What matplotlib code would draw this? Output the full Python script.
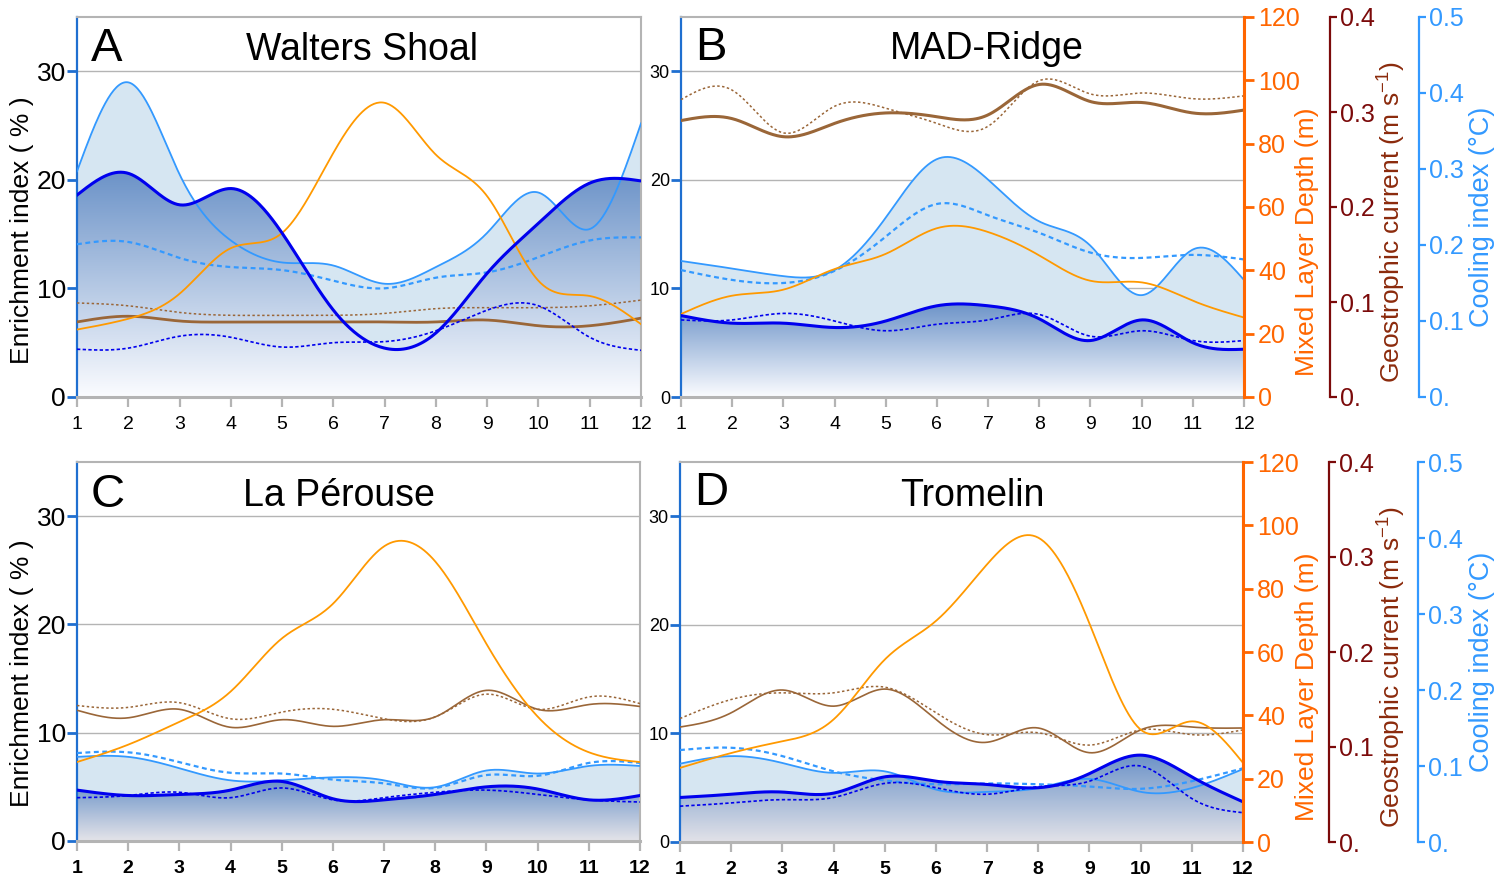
import numpy as np
import matplotlib
matplotlib.use('Agg')
import matplotlib.pyplot as plt
from matplotlib.patches import Polygon
from matplotlib.colors import LinearSegmentedColormap

plt.rcParams['font.family'] = ['Liberation Sans', 'DejaVu Sans']
plt.rcParams['mathtext.fontset'] = 'custom'
plt.rcParams['mathtext.rm'] = 'Liberation Sans'
plt.rcParams['mathtext.it'] = 'Liberation Sans:italic'

# ---------------- data ----------------
months = list(range(1, 13))
month_labels = [str(m) for m in months]

enrich_ticks = [0, 10, 20, 30]
mld_ticks = [0, 20, 40, 60, 80, 100, 120]
geo_ticks = [0, 0.1, 0.2, 0.3, 0.4]
geo_labels = ['0.', '0.1', '0.2', '0.3', '0.4']
cool_ticks = [0, 0.1, 0.2, 0.3, 0.4, 0.5]
cool_labels = ['0.', '0.1', '0.2', '0.3', '0.4', '0.5']

site_names = ['Walters Shoal', 'MAD-Ridge', 'La Pérouse', 'Tromelin']
site_letters = ['A', 'B', 'C', 'D']

# Enrichment index (%)
ws_enrich = [18.6, 20.6, 17.7, 19.2, 15.1, 8.0, 4.5, 5.9, 11.4, 16.0, 19.7, 19.9]
ws_enrich_dot = [4.4, 4.5, 5.6, 5.5, 4.6, 5.0, 5.1, 6.1, 8.0, 8.4, 5.5, 4.3]
mr_enrich = [7.5, 6.8, 6.8, 6.4, 7.0, 8.4, 8.4, 7.2, 5.2, 7.1, 5.0, 4.4]
mr_enrich_dot = [7.1, 7.1, 7.7, 7.0, 6.1, 6.7, 7.1, 7.6, 5.6, 6.1, 5.2, 5.2]
lp_enrich = [4.7, 4.2, 4.3, 4.7, 5.5, 3.9, 3.8, 4.3, 5.0, 4.8, 3.8, 4.2]
lp_enrich_dot = [4.0, 4.2, 4.5, 4.0, 4.9, 3.8, 4.0, 4.5, 4.7, 4.3, 3.8, 3.6]
tr_enrich = [4.1, 4.4, 4.6, 4.5, 6.0, 5.6, 5.3, 5.0, 6.3, 8.0, 6.0, 3.7]
tr_enrich_dot = [3.3, 3.6, 3.9, 4.1, 5.4, 5.0, 4.4, 5.1, 5.6, 7.0, 4.0, 2.7]

# Cooling index (degC)
ws_cool = [0.297, 0.414, 0.293, 0.206, 0.177, 0.173, 0.149, 0.171, 0.216, 0.269, 0.221, 0.360]
ws_cool_dash = [0.201, 0.204, 0.183, 0.171, 0.167, 0.153, 0.143, 0.157, 0.164, 0.184, 0.206, 0.210]
mr_cool = [0.179, 0.169, 0.159, 0.167, 0.236, 0.313, 0.286, 0.231, 0.199, 0.134, 0.194, 0.154]
mr_cool_dash = [0.167, 0.154, 0.150, 0.166, 0.211, 0.254, 0.239, 0.216, 0.190, 0.183, 0.187, 0.181]
lp_cool = [0.111, 0.111, 0.096, 0.080, 0.080, 0.084, 0.080, 0.071, 0.093, 0.089, 0.099, 0.099]
lp_cool_dash = [0.116, 0.117, 0.104, 0.090, 0.089, 0.081, 0.076, 0.070, 0.087, 0.086, 0.103, 0.103]
tr_cool = [0.103, 0.113, 0.104, 0.091, 0.093, 0.069, 0.066, 0.071, 0.083, 0.066, 0.071, 0.096]
tr_cool_dash = [0.121, 0.124, 0.113, 0.093, 0.081, 0.076, 0.077, 0.076, 0.073, 0.070, 0.080, 0.097]

# Mixed layer depth (m)
ws_mld = [21.3, 24.7, 32.6, 47.0, 51.8, 77.1, 92.9, 76.5, 63.4, 36.7, 31.9, 23.0]
mr_mld = [26.2, 32.0, 33.9, 40.4, 45.2, 53.3, 52.1, 44.7, 36.7, 36.2, 30.4, 25.1]
lp_mld = [25.0, 30.5, 37.7, 47.3, 64.1, 75.1, 93.3, 88.5, 62.4, 39.4, 28.1, 25.0]
tr_mld = [23.4, 28.1, 31.8, 38.7, 57.6, 69.8, 87.7, 96.1, 69.0, 35.5, 38.1, 25.0]

# Geostrophic current (m s-1)
ws_geo = [0.079, 0.085, 0.080, 0.079, 0.079, 0.079, 0.079, 0.079, 0.081, 0.075, 0.075, 0.083]
ws_geo_dot = [0.099, 0.096, 0.089, 0.086, 0.086, 0.086, 0.088, 0.093, 0.094, 0.094, 0.096, 0.102]
mr_geo = [0.291, 0.293, 0.274, 0.288, 0.299, 0.295, 0.297, 0.329, 0.311, 0.310, 0.299, 0.302]
mr_geo_dot = [0.313, 0.323, 0.278, 0.306, 0.304, 0.288, 0.285, 0.333, 0.319, 0.320, 0.314, 0.317]
lp_geo = [0.138, 0.130, 0.139, 0.120, 0.128, 0.121, 0.128, 0.131, 0.159, 0.139, 0.144, 0.142]
lp_geo_dot = [0.143, 0.141, 0.146, 0.129, 0.136, 0.139, 0.129, 0.131, 0.155, 0.139, 0.152, 0.145]
tr_geo = [0.121, 0.136, 0.160, 0.143, 0.161, 0.129, 0.105, 0.120, 0.094, 0.118, 0.121, 0.120]
tr_geo_dot = [0.130, 0.150, 0.157, 0.157, 0.163, 0.136, 0.113, 0.115, 0.102, 0.118, 0.113, 0.118]

# ---------------- helpers ----------------
def spline(x, y, n=400):
    x = np.asarray(x, float)
    y = np.asarray(y, float)
    nn = len(x)
    h = np.diff(x)
    A = np.zeros((nn, nn))
    r = np.zeros(nn)
    A[0, 0] = A[-1, -1] = 1.0
    for i in range(1, nn - 1):
        A[i, i - 1] = h[i - 1]
        A[i, i] = 2 * (h[i - 1] + h[i])
        A[i, i + 1] = h[i]
        r[i] = 3 * ((y[i + 1] - y[i]) / h[i] - (y[i] - y[i - 1]) / h[i - 1])
    c = np.linalg.solve(A, r)
    b = (y[1:] - y[:-1]) / h - h * (2 * c[:-1] + c[1:]) / 3
    d = (c[1:] - c[:-1]) / (3 * h)
    xs = np.linspace(x[0], x[-1], n)
    idx = np.clip(np.searchsorted(x, xs) - 1, 0, nn - 2)
    dx = xs - x[idx]
    return xs, y[idx] + b[idx] * dx + c[idx] * dx ** 2 + d[idx] * dx ** 3


W, H = 1512, 882
fig = plt.figure(figsize=(W / 100, H / 100), dpi=100)
PX2PT = 72 / 100


def rect(l, t, r, b):
    return [l / W, 1 - b / H, (r - l) / W, (b - t) / H]


GRAY = '#b4b4b4'
BLUE_SPINE = '#1f6fd0'
ORANGE_AX = '#ff6600'
GEO_AX = '#7b0a0a'
GEO_LABEL = '#8b2a0c'
COOL_C = '#3399ff'
ENR_C = '#0000ee'
MLD_C = '#ff9900'
BROWN = '#9a6638'

panels = [
    dict(box=(77, 17, 641, 397), enrich=ws_enrich, enrich_dot=ws_enrich_dot, cool=ws_cool,
         cool_dash=ws_cool_dash, mld=ws_mld, geo=ws_geo, geo_dot=ws_geo_dot,
         big_left=True, right_axes=False, bold_x=False, brown_lw=2.0, grad_bottom='#fbfcff',
         title_x=0.505, letter_y=0.884, title_y=0.887),
    dict(box=(681, 17, 1244, 397), enrich=mr_enrich, enrich_dot=mr_enrich_dot, cool=mr_cool,
         cool_dash=mr_cool_dash, mld=mr_mld, geo=mr_geo, geo_dot=mr_geo_dot,
         big_left=False, right_axes=True, bold_x=False, brown_lw=2.2, grad_bottom='#fbfcff',
         title_x=0.544, letter_y=0.887, title_y=0.889),
    dict(box=(77, 462, 640, 841), enrich=lp_enrich, enrich_dot=lp_enrich_dot, cool=lp_cool,
         cool_dash=lp_cool_dash, mld=lp_mld, geo=lp_geo, geo_dot=lp_geo_dot,
         big_left=True, right_axes=False, bold_x=True, brown_lw=1.2, grad_bottom='#e4e4e9',
         title_x=0.465, letter_y=0.882, title_y=0.884),
    dict(box=(680, 462, 1243, 842), enrich=tr_enrich, enrich_dot=tr_enrich_dot, cool=tr_cool,
         cool_dash=tr_cool_dash, mld=tr_mld, geo=tr_geo, geo_dot=tr_geo_dot,
         big_left=False, right_axes=True, bold_x=True, brown_lw=1.2, grad_bottom='#e2e2e8',
         title_x=0.519, letter_y=0.886, title_y=0.884),
]

for i, p in enumerate(panels):
    ax = fig.add_axes(rect(*p['box']))
    ax.set_xlim(1, 12)
    ax.set_ylim(0, 35)
    am = ax.twinx()
    am.set_ylim(0, 120)
    ag = ax.twinx()
    ag.set_ylim(0, 0.4)
    ac = ax.twinx()
    ac.set_ylim(0, 0.5)
    for t in (am, ag, ac):
        t.set_xlim(1, 12)

    # cooling fill (in cooling units)
    xs, ys = spline(months, p['cool'])
    verts = [(xs[0], 0)] + list(zip(xs, ys)) + [(xs[-1], 0)]
    poly = Polygon(verts, closed=True, facecolor='#d6e6f2', edgecolor='none',
                   transform=ac.transData, zorder=1)
    ax.add_patch(poly)

    # enrichment gradient fill
    xe, ye = spline(months, p['enrich'])
    ev = [(xe[0], 0)] + list(zip(xe, ye)) + [(xe[-1], 0)]
    epoly = Polygon(ev, closed=True, facecolor='none', edgecolor='none', zorder=2)
    ax.add_patch(epoly)
    cmap = LinearSegmentedColormap.from_list('g', [p['grad_bottom'], '#6c93c8'])
    grad = np.linspace(0, 1, 256)[:, None]
    im = ax.imshow(grad, aspect='auto', origin='lower', cmap=cmap,
                   extent=[1, 12, 0, float(ye.max())], zorder=2, interpolation='bilinear')
    im.set_clip_path(epoly)
    ax.set_xlim(1, 12)
    ax.set_ylim(0, 35)
    ax.set_aspect('auto')

    # lines
    x1, y1 = spline(months, p['geo_dot'])
    ax.plot(x1, y1, color=BROWN, lw=1.1, ls=(0, (1.6, 1.6)), transform=ag.transData, zorder=4)
    x1, y1 = spline(months, p['geo'])
    ax.plot(x1, y1, color=BROWN, lw=p['brown_lw'], transform=ag.transData, zorder=4)
    x1, y1 = spline(months, p['cool_dash'])
    ax.plot(x1, y1, color=COOL_C, lw=1.6, ls=(0, (2.2, 1.6)), transform=ac.transData, zorder=5)
    ax.plot(xs, ys, color=COOL_C, lw=1.3, transform=ac.transData, zorder=5)
    x1, y1 = spline(months, p['mld'])
    ax.plot(x1, y1, color=MLD_C, lw=1.3, transform=am.transData, zorder=6)
    x1, y1 = spline(months, p['enrich_dot'])
    ax.plot(x1, y1, color=ENR_C, lw=1.2, ls=(0, (2.0, 1.4)), zorder=7)
    ax.plot(xe, ye, color=ENR_C, lw=2.2, zorder=8)

    # main axes styling
    ax.set_yticks(enrich_ticks)
    ax.set_xticks(months)
    ax.set_xticklabels(month_labels, fontweight='bold' if p['bold_x'] else 'normal')
    ax.yaxis.grid(True, color=GRAY, lw=1.0)
    ax.set_axisbelow(True)
    ax.spines['left'].set_color(BLUE_SPINE)
    ax.spines['left'].set_linewidth(1.6)
    ax.spines['top'].set_color(GRAY)
    ax.spines['top'].set_linewidth(1.5)
    ax.spines['right'].set_color(GRAY)
    ax.spines['right'].set_linewidth(1.5)
    ax.spines['bottom'].set_color(GRAY)
    ax.spines['bottom'].set_linewidth(2.2)
    ax.tick_params(axis='y', color=BLUE_SPINE, length=7, width=2,
                   labelsize=19 if p['big_left'] else 13, pad=1)
    ax.tick_params(axis='x', color=GRAY, length=7, width=1.6, labelsize=14, pad=6.5)

    for t in (am, ag, ac):
        for s in t.spines.values():
            s.set_visible(False)
    if p['right_axes']:
        am.spines['right'].set_visible(True)
        am.spines['right'].set_color(ORANGE_AX)
        am.spines['right'].set_linewidth(2.2)
        am.set_yticks(mld_ticks)
        am.tick_params(axis='y', color=ORANGE_AX, labelcolor=ORANGE_AX, length=7, width=2,
                       labelsize=18, pad=3)
        ag.spines['right'].set_visible(True)
        ag.spines['right'].set_position(('outward', 86 * PX2PT))
        ag.spines['right'].set_color(GEO_AX)
        ag.spines['right'].set_linewidth(1.6)
        ag.set_yticks(geo_ticks)
        ag.set_yticklabels(geo_labels)
        ag.tick_params(axis='y', color=GEO_AX, labelcolor=GEO_AX, length=5, width=1.6,
                       labelsize=18, pad=2)
        ac.spines['right'].set_visible(True)
        ac.spines['right'].set_position(('outward', 175 * PX2PT))
        ac.spines['right'].set_color(COOL_C)
        ac.spines['right'].set_linewidth(1.6)
        ac.set_yticks(cool_ticks)
        ac.set_yticklabels(cool_labels)
        ac.tick_params(axis='y', color=COOL_C, labelcolor=COOL_C, length=5, width=1.6,
                       labelsize=18, pad=2)
    else:
        for t in (am, ag, ac):
            t.set_yticks([])

    ax.text(0.025, p['letter_y'], site_letters[i], transform=ax.transAxes, fontsize=34,
            ha='left', va='baseline', zorder=20)
    ax.text(p['title_x'], p['title_y'], site_names[i], transform=ax.transAxes, fontsize=27,
            ha='center', va='baseline', zorder=20)

# axis titles
for yc in (230, 673):
    fig.text(22 / W, 1 - yc / H, 'Enrichment index ( % )', rotation=90, fontsize=19,
             ha='center', va='center')
for dy in (0, 445):
    fig.text(1307 / W, 1 - (242 + dy) / H, 'Mixed Layer Depth (m)', rotation=90, fontsize=19,
             color=ORANGE_AX, ha='center', va='center')
    fig.text(1392 / W, 1 - (222 + dy) / H, r'Geostrophic current (m s$^{-1}$)', rotation=90,
             fontsize=19, color=GEO_LABEL, ha='center', va='center')
    fig.text(1482 / W, 1 - (217 + dy) / H, 'Cooling index (°C)', rotation=90, fontsize=19.5,
             color=COOL_C, ha='center', va='center')

fig.savefig('out.png', dpi=100)
